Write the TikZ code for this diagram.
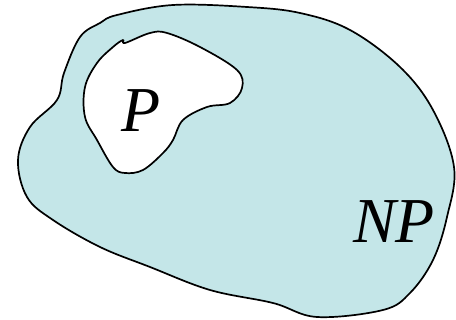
\documentclass[tikz,border=0pt]{standalone}
\usepackage{fontspec}
\setmainfont{Liberation Serif}
\definecolor{npblue}{RGB}{196,230,232}
\begin{document}
\begin{tikzpicture}[x=1pt, y=-1pt,
	blob/.style={draw=black, line width=1.7pt, line join=round},
	lbl/.style={font=\fontsize{64}{64}\selectfont\itshape, inner sep=0pt}]
	\useasboundingbox (0,0) rectangle (456,320);
	% outer set
	\draw[blob, fill=npblue] plot[smooth cycle, tension=.6] coordinates {
		(100,23) (117,15) (173,5) (247,7) (300,13) (350,30) (400,67) (433,110)
		(454,167) (447,217) (433,260) (410,293) (383,310) (317,317) (273,303)
		(210,290) (150,267) (100,247) (53,220) (27,197) (18,160) (30,127)
		(57,100) (64,73) (80,37)};
	% inner set
	\draw[blob, fill=white] plot[smooth cycle, tension=.6] coordinates {
		(123,40) (125,43) (150,33) (167,33) (200,47) (237,70) (242,88) (230,103)
		(207,107) (183,120) (173,140) (163,153) (143,170) (125,173) (113,167)
		(97,140) (85,117) (85,87) (97,63) (113,47)};
	
	\node[lbl] (P) at (141,111) {P};
	\node[lbl] (NP) at (394,222) {NP};
\end{tikzpicture}
\end{document}
